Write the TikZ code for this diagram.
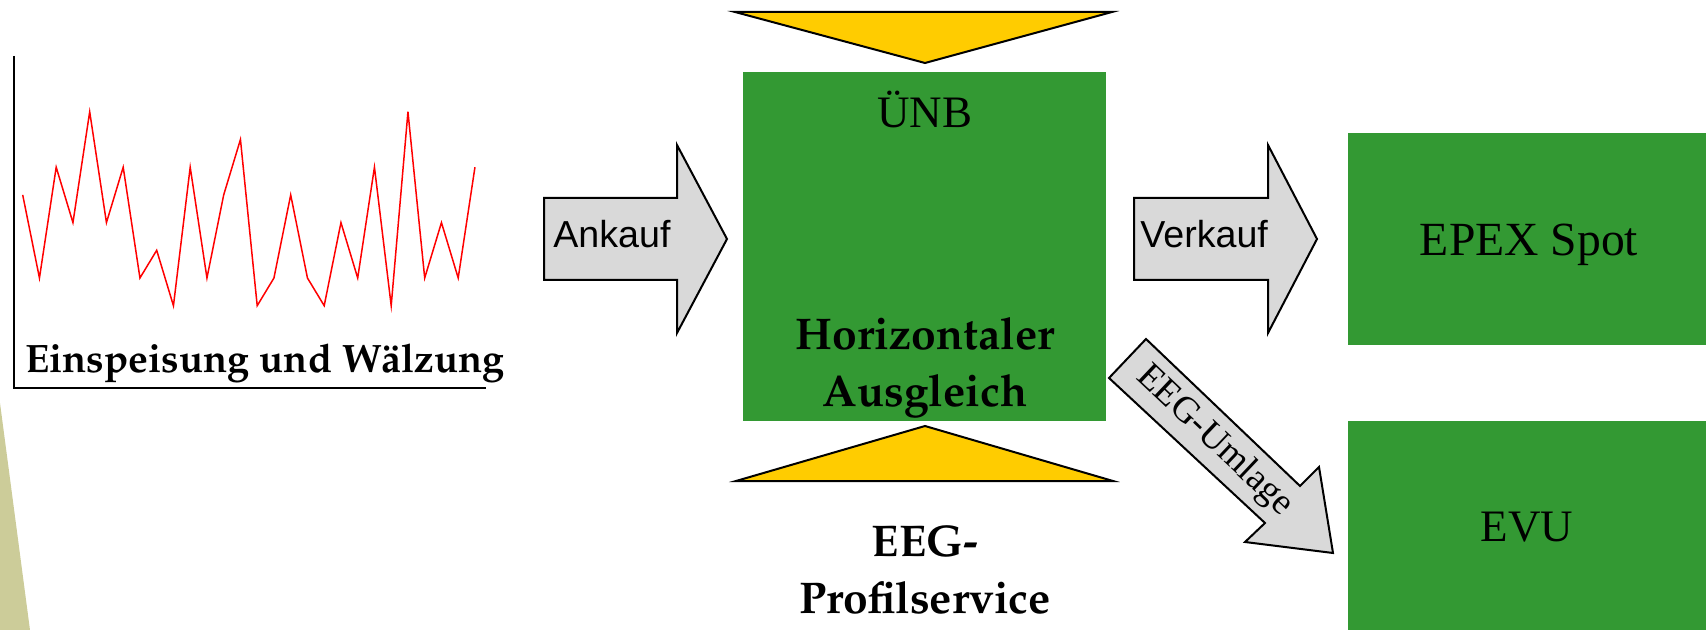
\documentclass[tikz,border=0pt]{standalone}
\usepackage[T1]{fontenc}
\usepackage{fontspec}
\setmainfont{Liberation Serif}
\newfontfamily\arialfont{Liberation Sans}
\usepackage{xcolor}

\definecolor{boxgreen}{RGB}{51,153,51}
\definecolor{triyellow}{RGB}{255,204,0}
\definecolor{arrowgray}{RGB}{217,217,217}
\definecolor{sideolive}{RGB}{204,204,153}

\newcommand\palbold{\fontencoding{T1}\fontfamily{ppl}\fontseries{b}\fontshape{n}\fontsize{22.2}{28.5}\selectfont}
\newcommand\palboldsmall{\fontencoding{T1}\fontfamily{ppl}\fontseries{b}\fontshape{n}\fontsize{19.8}{24}\selectfont}
\newcommand\timesbig{\fontsize{22.5}{27}\selectfont}
\newcommand\timesmid{\fontsize{18.5}{22}\selectfont}
\newcommand\arialmid{\arialfont\fontsize{18.8}{21}\selectfont}

\tikzset{
  greenbox/.style={fill=boxgreen, inner sep=0pt},
  blockarrow/.style={draw=black, fill=arrowgray, line width=1pt, line join=miter},
  yellowtri/.style={draw=black, fill=triyellow, line width=1pt, line join=miter}
}

\begin{document}
\begin{tikzpicture}[x=0.5pt,y=-0.5pt]
  \useasboundingbox (0,0) rectangle (1706,630);

  % side decoration
  \fill[sideolive] (0,403) -- (30,630) -- (0,630) -- cycle;

  % feed-in curve
  \coordinate (yax) at (14,56);
  \coordinate (Oax) at (14,388);
  \coordinate (xax) at (486,388);
  \draw[line width=0.6pt] (yax) -- (Oax) -- (xax);
  \foreach \lvl [count=\i from 0] in {4,1,5,3,7,3,5,1,2,0,5,1,4,6,0,1,4,1,0,3,1,5,0,7,1,3,1,5}
    \coordinate (s\i) at ({22.7+16.75*\i},{305.7-27.7*\lvl});
  \draw[red, line width=0.75pt] (s0) \foreach \i in {1,...,27}{ -- (s\i)};
  \node[anchor=base west, font=\palboldsmall, inner sep=0pt] (einsp) at (25,372) {Einspeisung und Wälzung};

  % central box
  \node[greenbox, minimum width=181.5pt, minimum height=174.5pt] (hub) at (924.5,246.5) {};
  \draw[yellowtri] (735,12) -- (1112,12) -- (925,63) -- cycle;
  \draw[yellowtri] (925,426) -- (1113,481) -- (736,481) -- cycle;
  \node[anchor=base, font=\timesbig] (unb) at (925,128) {ÜNB};
  \node[font=\palbold, align=center] (hza) at (925,368) {Horizontaler\\Ausgleich};
  \node[font=\palbold, align=center] (profil) at (925,570) {EEG-\\Profilservice};

  % block arrows
  \draw[blockarrow] (544,198) -- (677,198) -- (677,145) -- (727,239)
    -- (677,333) -- (677,280) -- (544,280) -- cycle;
  \node[anchor=base west, font=\arialmid, inner sep=0pt] (ankauf) at (553,248) {Ankauf};

  \draw[blockarrow] (1134,198) -- (1268,198) -- (1268,145) -- (1317,239)
    -- (1268,333) -- (1268,280) -- (1134,280) -- cycle;
  \node[anchor=base west, font=\arialmid, inner sep=0pt] (verkauf) at (1140,248) {Verkauf};

  \draw[blockarrow] (1146,339) -- (1300,486) -- (1319,467) -- (1333,553)
    -- (1245,542) -- (1265,523) -- (1109,378) -- cycle;
  \coordinate (umlTail) at (1127.5,358.5);
  \coordinate (umlTip) at (1333,553);
  \path (umlTail) -- (umlTip) node[pos=0.424, sloped, font=\timesmid, inner sep=0pt] (umlage) {EEG-Umlage};

  % right boxes
  \node[greenbox, minimum width=179pt, minimum height=106pt] (epex) at (1527,239) {};
  \node[font=\fontsize{23.8}{28}\selectfont] (epextext) at (1529,245) {EPEX Spot};
  \node[greenbox, minimum width=179pt, minimum height=106pt, font=\timesbig] (evu) at (1527,527) {EVU};

\end{tikzpicture}
\end{document}
